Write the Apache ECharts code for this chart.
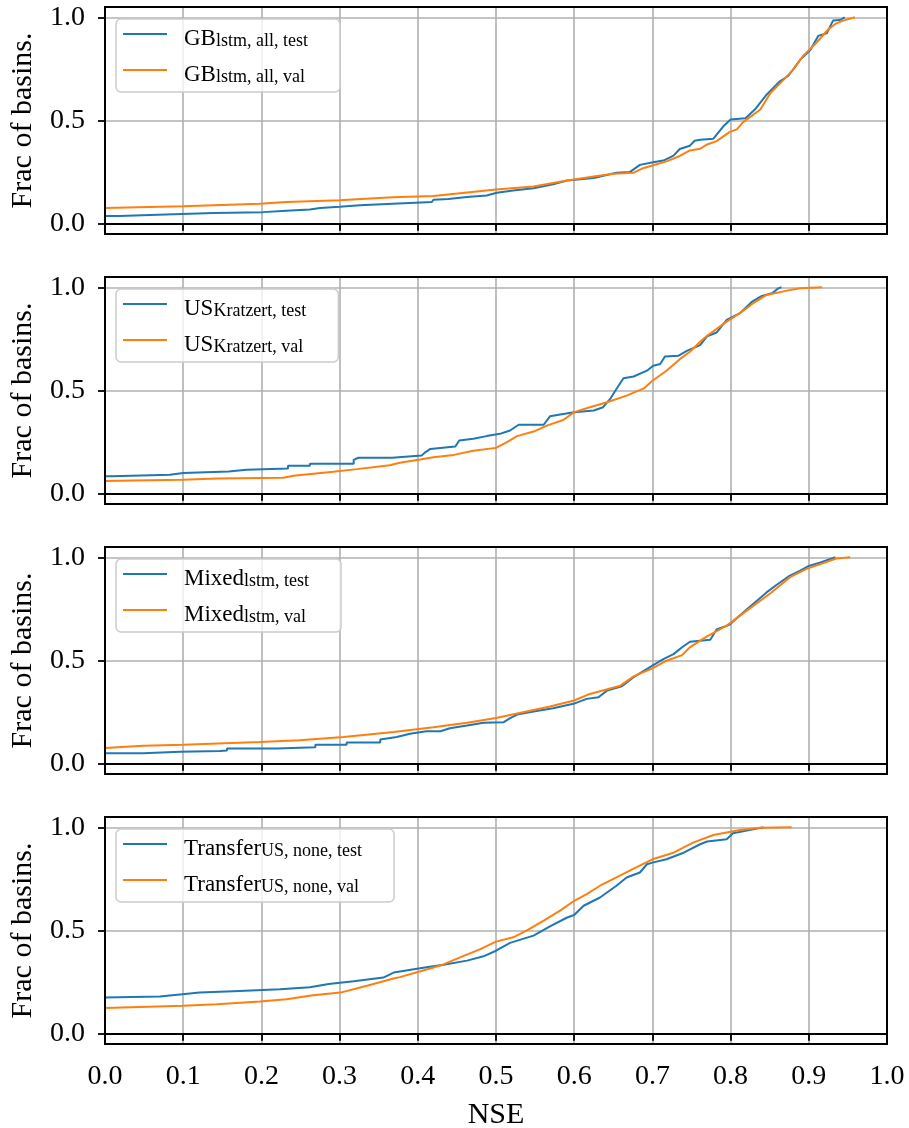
<!DOCTYPE html>
<html>
<head>
<meta charset="utf-8">
<title>NSE CDF</title>
<script src="https://cdn.jsdelivr.net/npm/echarts@6/dist/echarts.min.js"></script>
<style>
  html, body { margin: 0; padding: 0; background: #fff; }
  #chart { width: 909px; height: 1128px; }
</style>
</head>
<body>
<div id="chart"></div>
<script>
// ticks
const xTicks = [0, 0.1, 0.2, 0.3, 0.4, 0.5, 0.6, 0.7, 0.8, 0.9, 1.0];
const yTicks = [0, 0.5, 1.0];

// cdf curves, [nse, fraction of basins]
const gbTest = [[0,0.037],[0.018,0.037],[0.018,0.045],[0.078,0.045],[0.078,0.052],[0.139,0.052],[0.139,0.056],[0.202,0.056],[0.202,0.063],[0.232,0.063],[0.232,0.069],[0.262,0.069],[0.262,0.076],[0.275,0.076],[0.275,0.082],[0.300,0.082],[0.300,0.089],[0.326,0.089],[0.326,0.097],[0.368,0.097],[0.368,0.103],[0.418,0.105],[0.420,0.116],[0.439,0.120],[0.463,0.129],[0.488,0.137],[0.501,0.150],[0.522,0.161],[0.548,0.172],[0.573,0.191],[0.591,0.209],[0.625,0.221],[0.654,0.247],[0.671,0.250],[0.684,0.285],[0.701,0.298],[0.714,0.306],[0.727,0.330],[0.735,0.362],[0.748,0.378],[0.754,0.402],[0.761,0.407],[0.778,0.412],[0.791,0.473],[0.800,0.505],[0.819,0.511],[0.831,0.553],[0.846,0.625],[0.863,0.690],[0.874,0.717],[0.889,0.794],[0.902,0.842],[0.912,0.910],[0.923,0.923],[0.931,0.984],[0.940,0.987],[0.946,1.0]];
const gbVal = [[0,0.076],[0.100,0.085],[0.198,0.097],[0.232,0.105],[0.300,0.114],[0.368,0.128],[0.420,0.134],[0.454,0.148],[0.500,0.166],[0.548,0.180],[0.591,0.209],[0.625,0.229],[0.650,0.242],[0.676,0.247],[0.689,0.270],[0.701,0.283],[0.718,0.302],[0.735,0.328],[0.748,0.355],[0.761,0.363],[0.770,0.384],[0.782,0.400],[0.799,0.445],[0.808,0.457],[0.816,0.492],[0.838,0.553],[0.851,0.633],[0.868,0.698],[0.880,0.746],[0.893,0.814],[0.910,0.878],[0.925,0.942],[0.934,0.968],[0.944,0.984],[0.959,1.0]];

const usTest = [[0,0.084],[0.009,0.084],[0.009,0.092],[0.083,0.092],[0.083,0.100],[0.100,0.100],[0.100,0.108],[0.158,0.108],[0.158,0.116],[0.181,0.116],[0.181,0.122],[0.234,0.122],[0.234,0.135],[0.262,0.135],[0.262,0.145],[0.318,0.145],[0.318,0.164],[0.324,0.174],[0.367,0.174],[0.367,0.180],[0.405,0.185],[0.409,0.199],[0.416,0.217],[0.448,0.229],[0.453,0.258],[0.471,0.266],[0.488,0.279],[0.505,0.290],[0.518,0.306],[0.529,0.334],[0.561,0.334],[0.569,0.375],[0.586,0.386],[0.600,0.395],[0.625,0.403],[0.637,0.419],[0.646,0.459],[0.654,0.507],[0.663,0.559],[0.676,0.568],[0.693,0.596],[0.701,0.620],[0.710,0.628],[0.716,0.665],[0.733,0.668],[0.744,0.692],[0.761,0.720],[0.770,0.762],[0.782,0.781],[0.795,0.842],[0.812,0.875],[0.827,0.929],[0.840,0.958],[0.853,0.971],[0.861,0.995],[0.865,1.0]];
const usVal = [[0,0.061],[0.036,0.064],[0.100,0.068],[0.143,0.074],[0.228,0.077],[0.241,0.087],[0.292,0.106],[0.322,0.119],[0.364,0.138],[0.377,0.150],[0.403,0.166],[0.420,0.177],[0.446,0.188],[0.471,0.208],[0.500,0.222],[0.514,0.250],[0.527,0.279],[0.548,0.301],[0.565,0.330],[0.586,0.357],[0.600,0.395],[0.620,0.419],[0.642,0.443],[0.667,0.475],[0.689,0.510],[0.700,0.547],[0.718,0.596],[0.735,0.652],[0.748,0.688],[0.761,0.736],[0.770,0.765],[0.795,0.834],[0.812,0.875],[0.829,0.923],[0.846,0.963],[0.872,0.984],[0.889,0.995],[0.917,1.0]];

const mixedTest = [[0,0.051],[0.049,0.051],[0.049,0.058],[0.096,0.058],[0.096,0.061],[0.147,0.061],[0.147,0.064],[0.156,0.064],[0.156,0.074],[0.220,0.074],[0.220,0.080],[0.269,0.080],[0.269,0.092],[0.309,0.092],[0.309,0.103],[0.352,0.103],[0.352,0.117],[0.373,0.129],[0.390,0.145],[0.411,0.157],[0.429,0.157],[0.441,0.172],[0.463,0.185],[0.484,0.198],[0.510,0.201],[0.518,0.221],[0.527,0.238],[0.548,0.253],[0.573,0.269],[0.599,0.290],[0.616,0.314],[0.631,0.322],[0.642,0.354],[0.661,0.375],[0.676,0.419],[0.700,0.475],[0.714,0.507],[0.727,0.531],[0.738,0.564],[0.748,0.591],[0.761,0.596],[0.774,0.601],[0.782,0.650],[0.799,0.674],[0.808,0.706],[0.825,0.762],[0.846,0.830],[0.859,0.867],[0.874,0.907],[0.889,0.936],[0.900,0.958],[0.914,0.974],[0.934,1.0]];
const mixedVal = [[0,0.076],[0.049,0.087],[0.100,0.092],[0.198,0.105],[0.249,0.113],[0.305,0.129],[0.369,0.154],[0.420,0.177],[0.463,0.198],[0.500,0.221],[0.539,0.253],[0.569,0.277],[0.600,0.306],[0.620,0.338],[0.659,0.378],[0.676,0.423],[0.700,0.462],[0.718,0.499],[0.738,0.526],[0.748,0.564],[0.761,0.596],[0.770,0.617],[0.795,0.669],[0.825,0.754],[0.851,0.826],[0.876,0.904],[0.897,0.944],[0.914,0.966],[0.935,0.994],[0.953,1.0]];

const transferTest = [[0,0.175],[0.070,0.180],[0.096,0.190],[0.121,0.199],[0.164,0.206],[0.224,0.215],[0.262,0.225],[0.286,0.241],[0.318,0.254],[0.356,0.272],[0.369,0.296],[0.377,0.301],[0.411,0.322],[0.433,0.334],[0.463,0.354],[0.484,0.375],[0.500,0.402],[0.518,0.440],[0.548,0.475],[0.569,0.520],[0.591,0.563],[0.600,0.575],[0.612,0.620],[0.633,0.660],[0.654,0.717],[0.667,0.757],[0.684,0.781],[0.693,0.821],[0.700,0.829],[0.718,0.845],[0.740,0.877],[0.761,0.918],[0.770,0.931],[0.795,0.942],[0.803,0.971],[0.829,0.990],[0.842,1.0]];
const transferVal = [[0,0.125],[0.100,0.135],[0.143,0.143],[0.198,0.156],[0.232,0.167],[0.266,0.186],[0.301,0.199],[0.335,0.232],[0.369,0.267],[0.377,0.274],[0.399,0.298],[0.429,0.330],[0.454,0.370],[0.480,0.410],[0.500,0.446],[0.522,0.467],[0.539,0.499],[0.561,0.548],[0.582,0.596],[0.600,0.644],[0.616,0.676],[0.633,0.717],[0.654,0.757],[0.676,0.800],[0.700,0.845],[0.727,0.877],[0.752,0.926],[0.778,0.963],[0.812,0.987],[0.838,0.998],[0.878,1.0]];

// legend labels: main text + subscript
const panels = [
  { test: gbTest, val: gbVal, main: 'GB', subTest: 'lstm, all, test', subVal: 'lstm, all, val' },
  { test: usTest, val: usVal, main: 'US', subTest: 'Kratzert, test', subVal: 'Kratzert, val' },
  { test: mixedTest, val: mixedVal, main: 'Mixed', subTest: 'lstm, test', subVal: 'lstm, val' },
  { test: transferTest, val: transferVal, main: 'Transfer', subTest: 'US, none, test', subVal: 'US, none, val' }
];

const FONT = 'Liberation Serif';
const BLUE = '#1f77b4', ORANGE = '#ff7f0e';
const tops = [7, 277, 547, 817];
const plotH = 227;

let chart = echarts.init(document.getElementById('chart'));

let grids = [], xAxes = [], yAxes = [], series = [], legends = [];
let labelMap = {};

panels.forEach(function (p, i) {
  const last = i === panels.length - 1;
  grids.push({
    left: 105, width: 782, top: tops[i], height: plotH,
    containLabel: false, outerBoundsMode: 'none',
    show: true, borderColor: '#000', borderWidth: 2,
    backgroundColor: 'transparent', z: 5
  });
  xAxes.push({
    type: 'value', gridIndex: i, min: 0, max: 1, interval: 0.1,
    axisLine: { show: true, lineStyle: { color: '#000', width: 2 } },
    axisTick: { show: true, inside: false, length: 7, lineStyle: { color: '#000', width: 1.8 } },
    axisLabel: {
      show: last, color: '#000', fontSize: 28, fontFamily: FONT, margin: 19,
      formatter: function (v) { return v.toFixed(1); }
    },
    splitLine: { show: true, lineStyle: { color: '#b0b0b0', width: 1.6 } },
    name: last ? 'NSE' : '', nameLocation: 'middle', nameGap: 56,
    nameTextStyle: { color: '#000', fontSize: 30, fontFamily: FONT }
  });
  yAxes.push({
    type: 'value', gridIndex: i, min: -0.05, max: 1.05,
    axisLine: { show: true, lineStyle: { color: '#000', width: 2 } },
    axisTick: { show: true, inside: false, length: 7, customValues: yTicks, lineStyle: { color: '#000', width: 1.8 } },
    axisLabel: {
      color: '#000', fontSize: 28, fontFamily: FONT, margin: 20, customValues: yTicks,
      formatter: function (v) { return v.toFixed(1); }
    },
    splitLine: { show: true, lineStyle: { color: '#b0b0b0', width: 1.6 } },
    name: 'Frac of basins.', nameLocation: 'middle', nameGap: 67,
    nameTextStyle: { color: '#000', fontSize: 30, fontFamily: FONT }
  });

  const nTest = p.main + '_' + p.subTest;
  const nVal = p.main + '_' + p.subVal;
  labelMap[nTest] = '{m|' + p.main + '}{s|' + p.subTest + '}';
  labelMap[nVal] = '{m|' + p.main + '}{s|' + p.subVal + '}';

  series.push({
    name: nTest, type: 'line', xAxisIndex: i, yAxisIndex: i, data: p.test,
    showSymbol: false, color: BLUE, lineStyle: { width: 2, color: BLUE }
  });
  series.push({
    name: nVal, type: 'line', xAxisIndex: i, yAxisIndex: i, data: p.val,
    showSymbol: false, color: ORANGE, lineStyle: { width: 2, color: ORANGE }
  });

  legends.push({
    orient: 'vertical', left: 116, top: tops[i] + 12,
    data: [nTest, nVal],
    icon: 'rect', itemWidth: 44, itemHeight: 2, itemGap: 13,
    padding: [8, 32, 6, 7],
    backgroundColor: 'rgba(255,255,255,0.8)',
    borderColor: '#cccccc', borderWidth: 1.5, borderRadius: 5,
    selectedMode: false,
    formatter: function (name) { return labelMap[name]; },
    textStyle: {
      color: '#000', fontFamily: FONT, padding: [8, 0, 0, 0],
      rich: {
        m: { fontSize: 23, fontFamily: FONT, color: '#000', lineHeight: 24, verticalAlign: 'bottom', padding: [0, 0, 0, 12] },
        s: { fontSize: 18, fontFamily: FONT, color: '#000', lineHeight: 13, verticalAlign: 'bottom' }
      }
    }
  });
});

chart.setOption({
  animation: false,
  textStyle: { fontFamily: FONT },
  grid: grids,
  xAxis: xAxes,
  yAxis: yAxes,
  legend: legends,
  series: series
});
</script>
</body>
</html>
